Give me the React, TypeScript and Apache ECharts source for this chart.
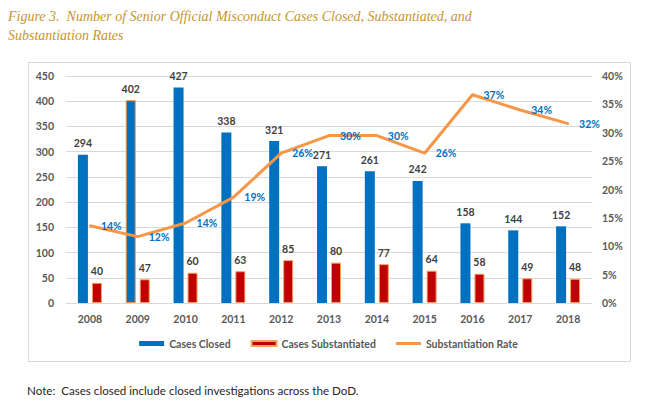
import * as echarts from "echarts";
import { useEffect, useRef } from "react";

const years = ["2008", "2009", "2010", "2011", "2012", "2013", "2014", "2015", "2016", "2017", "2018"];
const casesClosed = [294, 402, 427, 338, 321, 271, 261, 242, 158, 144, 152];
const casesSubstantiated = [40, 47, 60, 63, 85, 80, 77, 64, 58, 49, 48];
// substantiation rate in percent
const substantiationRate = [13.6, 11.7, 14.1, 18.6, 26.4, 29.5, 29.5, 26.4, 36.7, 34.0, 31.6];

const BLUE = "#0070C0";
const RED = "#C00000";
const ORANGE = "#F79646";
const GRAY = "#595959";
const FONT = "Lato";

function App() {
  const chartRef = useRef(null);

  useEffect(() => {
    const chart = echarts.init(chartRef.current, null, { renderer: "svg" });

    const options = {
      animation: false,
      title: {
        text: "Figure 3.  Number of Senior Official Misconduct Cases Closed, Substantiated, and\nSubstantiation Rates",
        left: 3,
        top: 2,
        textStyle: {
          fontFamily: "Liberation Serif",
          fontStyle: "italic",
          fontWeight: "normal",
          fontSize: 14,
          lineHeight: 19,
          color: "#C8952B",
        },
      },
      graphic: [
        {
          type: "rect",
          shape: { x: 28.5, y: 62.5, width: 602, height: 299 },
          style: { fill: "none", stroke: "#D9D9D9", lineWidth: 1 },
          z: -1,
        },
        {
          type: "text",
          left: 27,
          top: 384,
          style: {
            text: "Note:  Cases closed include closed investigations across the DoD.",
            fontFamily: FONT,
            fontSize: 11.6,
            fill: "#262626",
          },
        },
      ],
      legend: {
        bottom: 50,
        left: "center",
        itemWidth: 25,
        itemHeight: 5,
        itemGap: 20,
        textStyle: { fontFamily: FONT, fontWeight: "bold", fontSize: 10.5, color: GRAY },
        data: [
          { name: "Cases Closed", icon: "rect" },
          { name: "Cases Substantiated", icon: "rect" },
          { name: "Substantiation Rate", icon: "path://M0,0H25V3H0Z" },
        ],
      },
      grid: { left: 66, right: 65, top: 76, bottom: 101 },
      xAxis: {
        type: "category",
        data: years,
        axisLine: { lineStyle: { color: "#D9D9D9" } },
        axisTick: { show: false },
        axisLabel: { color: GRAY, fontFamily: FONT, fontWeight: "bold", fontSize: 10.5, margin: 10 },
      },
      yAxis: [
        {
          type: "value",
          min: 0,
          max: 450,
          interval: 50,
          axisLabel: { color: GRAY, fontFamily: FONT, fontWeight: "bold", fontSize: 10.5, margin: 12 },
          splitLine: { lineStyle: { color: "#D9D9D9" } },
          axisLine: { show: false },
          axisTick: { show: false },
        },
        {
          type: "value",
          min: 0,
          max: 40,
          interval: 5,
          position: "right",
          axisLabel: {
            formatter: "{value}%",
            color: GRAY,
            fontFamily: FONT,
            fontWeight: "bold",
            fontSize: 10.5,
            margin: 10,
          },
          splitLine: { show: false },
          axisLine: { show: false },
          axisTick: { show: false },
        },
      ],
      series: [
        {
          name: "Cases Closed",
          type: "bar",
          data: casesClosed.map((v, i) =>
            i === 1 ? { value: v, itemStyle: { borderColor: ORANGE, borderWidth: 1 } } : v
          ),
          barWidth: 10,
          barGap: "40%",
          itemStyle: { color: BLUE },
          label: {
            show: true,
            position: "top",
            distance: 6,
            color: "#404040",
            fontFamily: FONT,
            fontWeight: "bold",
            fontSize: 10.5,
          },
        },
        {
          name: "Cases Substantiated",
          type: "bar",
          data: casesSubstantiated,
          barWidth: 10,
          itemStyle: { color: RED, borderColor: "#F4A35E", borderWidth: 1 },
          label: {
            show: true,
            position: "top",
            distance: 6,
            color: "#404040",
            fontFamily: FONT,
            fontWeight: "bold",
            fontSize: 10.5,
          },
        },
        {
          name: "Substantiation Rate",
          type: "line",
          yAxisIndex: 1,
          data: substantiationRate,
          symbol: "circle",
          symbolSize: 2,
          showSymbol: true,
          lineStyle: { color: ORANGE, width: 3 },
          itemStyle: { color: ORANGE },
          label: {
            show: true,
            position: "right",
            distance: 10,
            formatter: (p: any) => Math.round(p.value) + "%",
            color: BLUE,
            fontFamily: FONT,
            fontWeight: "bold",
            fontSize: 10.5,
          },
        },
      ],
    };

    chart.setOption(options);

    return () => {
      chart.dispose();
    };
  }, []);

  return (
    <div
      ref={chartRef}
      style={{ position: "fixed", left: 0, top: 0, width: "657px", height: "404px", background: "#fff" }}
    />
  );
}

export default App;
